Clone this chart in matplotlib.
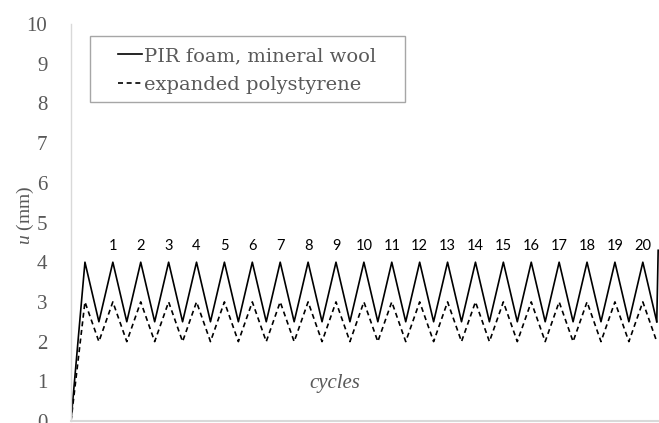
import matplotlib
matplotlib.use("Agg")
import matplotlib.pyplot as plt
from matplotlib.patches import Rectangle

# data: step index along the loading history, and displacement u (mm)
steps = [0, 1, 2, 3, 4, 5, 6, 7, 8, 9, 10, 11, 12, 13, 14, 15, 16, 17, 18, 19, 20,
         21, 22, 23, 24, 25, 26, 27, 28, 29, 30, 31, 32, 33, 34, 35, 36, 37, 38, 39,
         40, 41, 42]
pir_mw = [0, 4, 2.5, 4, 2.5, 4, 2.5, 4, 2.5, 4, 2.5, 4, 2.5, 4, 2.5, 4, 2.5, 4, 2.5,
          4, 2.5, 4, 2.5, 4, 2.5, 4, 2.5, 4, 2.5, 4, 2.5, 4, 2.5, 4, 2.5, 4, 2.5, 4,
          2.5, 4, 2.5, 4, 2.5]
eps = [0, 3, 2, 3, 2, 3, 2, 3, 2, 3, 2, 3, 2, 3, 2, 3, 2, 3, 2, 3, 2, 3, 2, 3, 2, 3,
       2, 3, 2, 3, 2, 3, 2, 3, 2, 3, 2, 3, 2, 3, 2, 3, 2]
# last visible rise of the solid line at the right edge
pir_tail_x = [42, 42.1]
pir_tail_y = [2.5, 4.3]

cycle_labels = ["1", "2", "3", "4", "5", "6", "7", "8", "9", "10", "11", "12", "13",
                "14", "15", "16", "17", "18", "19", "20"]
cycle_steps = [3, 5, 7, 9, 11, 13, 15, 17, 19, 21, 23, 25, 27, 29, 31, 33, 35, 37, 39, 41]
yticks = [0, 1, 2, 3, 4, 5, 6, 7, 8, 9, 10]

gray = "#595959"
serif = ["Liberation Serif", "DejaVu Serif"]
plt.rcParams["mathtext.fontset"] = "custom"
plt.rcParams["mathtext.it"] = "Liberation Serif:italic"
plt.rcParams["mathtext.rm"] = "Liberation Serif"

fig = plt.figure(figsize=(6.59, 4.23), dpi=100)
ax = fig.add_axes([71 / 659, 2 / 423, 1 - 71 / 659, 397 / 423])

ax.plot(steps, pir_mw, color="black", lw=1.2, label="PIR foam, mineral wool")
ax.plot(pir_tail_x, pir_tail_y, color="black", lw=1.2)
ax.plot(steps, eps, color="black", lw=1.2, ls=(0, (3.0, 2.2)), label="expanded polystyrene")

for s, lab in zip(cycle_steps, cycle_labels):
    ax.text(s, 4.4, lab, ha="center", va="center", fontsize=10.5,
            family=["Lato", "DejaVu Sans"], color="black")

ax.set_xlim(0, 42.16)
ax.set_ylim(0, 10)
ax.set_yticks(yticks)
ax.set_yticklabels([str(v) for v in yticks], family=serif, fontsize=15, color=gray)
ax.tick_params(axis="y", length=0, pad=17)
ax.set_xticks([])

for side in ["top", "right"]:
    ax.spines[side].set_visible(False)
ax.spines["left"].set_color("#d9d9d9")
ax.spines["bottom"].set_color("#d9d9d9")
ax.spines["left"].set_linewidth(1.0)
ax.spines["bottom"].set_linewidth(1.5)

ax.text(0.449, 0.095, "cycles", transform=ax.transAxes, ha="center", va="center",
        fontsize=15, style="italic", family=serif, color=gray)

fig.text(25.5 / 659, 1 - 215 / 423, "$u$ (mm)", rotation=90, ha="center", va="center",
         fontsize=14, family=serif, color=gray)

# legend box
ax.add_patch(Rectangle((19 / 588, (421 - 102) / 397), 315 / 588, 66 / 397,
                       transform=ax.transAxes, fill=False, edgecolor="#a6a6a6",
                       lw=1.0, clip_on=False, zorder=5))
leg = ax.legend(loc="upper left", bbox_to_anchor=((118 - 71) / 588, (421 - 47) / 397),
                frameon=False, handlelength=1.24, handletextpad=0.08,
                borderpad=0.0, borderaxespad=0.0, labelspacing=0.58,
                prop={"family": ["DejaVu Serif"], "size": 14})
for t in leg.get_texts():
    t.set_color(gray)

fig.savefig("out.png", dpi=100)
